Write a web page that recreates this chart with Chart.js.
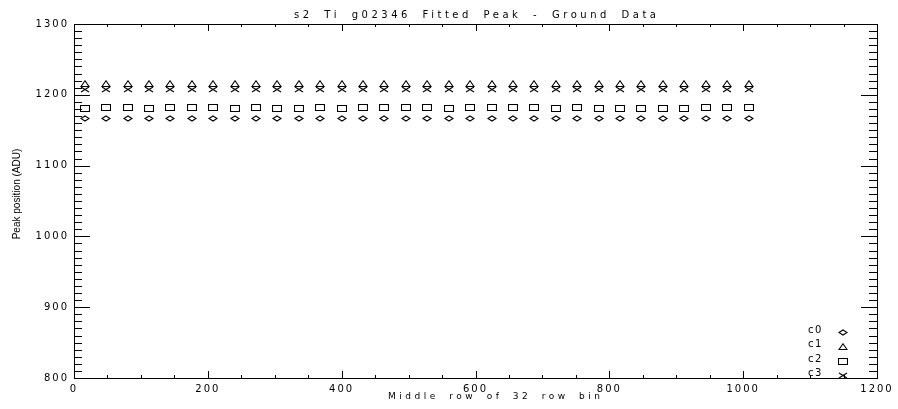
<!DOCTYPE html>
<html>
<head>
<meta charset="utf-8">
<script src="https://cdn.jsdelivr.net/npm/chart.js@4.4.1/dist/chart.umd.min.js"></script>
<style>
  html, body { margin: 0; padding: 0; background: #fff; }
</style>
</head>
<body>
<canvas id="peakChart" width="898" height="409"></canvas>
<script>
const rowBins = [16, 48, 80, 112, 144, 176, 208, 240, 272, 304, 336, 368, 400, 432, 464, 496,
                 528, 560, 592, 624, 656, 688, 720, 752, 784, 816, 848, 880, 912, 944, 976, 1008];
const peakC0 = [1166, 1166.5, 1166.5, 1166.5, 1166.5, 1166.5, 1166.5, 1166.5, 1166.5, 1166.5, 1166.5, 1166.5, 1166.5, 1166.5, 1166.5, 1166.5,
                1166.5, 1166.5, 1166.5, 1166.5, 1166.5, 1166.5, 1166.5, 1166.5, 1166.5, 1166, 1167, 1166.5, 1166.5, 1166.5, 1166, 1167];
const peakC1 = [1215, 1215, 1215, 1215, 1215, 1215, 1215, 1215, 1215, 1215, 1215, 1215, 1215, 1215, 1215, 1215,
                1215, 1215, 1215, 1215, 1215, 1215, 1215, 1215, 1215, 1215, 1215, 1215, 1215, 1215, 1215, 1215];
const peakC2 = [1181, 1181.5, 1182.5, 1180, 1181.5, 1181.5, 1182, 1181, 1181.5, 1180, 1181, 1181.5, 1181, 1181.5, 1181.5, 1181.5,
                1182.5, 1180, 1181.5, 1181.5, 1181.5, 1181.5, 1180.5, 1181.5, 1180.5, 1181, 1181, 1180.5, 1181, 1182, 1181.5, 1182];
const peakC3 = [1207, 1207, 1207, 1207, 1207, 1207, 1207, 1207, 1207, 1207, 1207, 1207, 1207, 1207, 1207, 1207,
                1207, 1207, 1207, 1207, 1207, 1207, 1207, 1207, 1207, 1207, 1207, 1207, 1207, 1207, 1207, 1207];
const seriesNames = ['c0', 'c1', 'c2', 'c3'];
const xTickValues = [0, 200, 400, 600, 800, 1000, 1200];
const yTickValues = [800, 900, 1000, 1100, 1200, 1300];

// little hollow symbols, like the IDL psym ones
function makeSymbol(w, h, drawFn) {
  const c = document.createElement('canvas');
  c.width = w; c.height = h;
  const g = c.getContext('2d');
  g.strokeStyle = '#000';
  g.lineWidth = 1.1;
  g.beginPath();
  drawFn(g);
  g.stroke();
  return c;
}
const diamond = makeSymbol(10, 7, g => {
  g.moveTo(1, 3.5); g.lineTo(5, 1); g.lineTo(9, 3.5); g.lineTo(5, 6); g.closePath();
});
const triangle = makeSymbol(10, 8, g => {
  g.moveTo(1, 6.5); g.lineTo(9, 6.5); g.lineTo(5, 0.8); g.closePath();
});
const square = makeSymbol(10, 7, g => {
  g.rect(0.5, 0.5, 9, 6);
});
const cross = makeSymbol(10, 7, g => {
  g.moveTo(1, 1); g.lineTo(9, 6); g.moveTo(9, 1); g.lineTo(1, 6);
});
const symbols = [diamond, triangle, square, cross];

function toPoints(ys) {
  return rowBins.map((x, i) => ({ x: x, y: ys[i] }));
}

// spread text out to a given width, spaces wider than letters (Hershey look)
function spacedText(ctx, text, cx, cy, target, wordGap) {
  ctx.letterSpacing = '0px';
  ctx.wordSpacing = wordGap + 'px';
  const w = ctx.measureText(text).width;
  const sp = (target - w) / (text.length - 1);
  ctx.letterSpacing = sp + 'px';
  ctx.textAlign = 'left';
  ctx.fillText(text, cx - target / 2, cy);
  ctx.wordSpacing = '0px';
}

const idlFrame = {
  id: 'idlFrame',
  beforeDraw(chart) {
    chart.ctx.letterSpacing = '2px';
  },
  beforeDatasetsDraw(chart) {
    chart.ctx.imageSmoothingEnabled = false;
  },
  afterDatasetsDraw(chart) {
    chart.ctx.imageSmoothingEnabled = true;
  },
  afterDraw(chart) {
    const ctx = chart.ctx;
    const a = chart.chartArea;
    const xs = chart.scales.x, ys = chart.scales.y;
    ctx.save();
    ctx.strokeStyle = '#000';
    ctx.lineWidth = 1;
    ctx.strokeRect(Math.round(a.left) + 0.5, Math.round(a.top) + 0.5,
                   Math.round(a.right - a.left), Math.round(a.bottom - a.top));

    ctx.beginPath();
    for (let v = 800; v <= 1300; v += 10) {
      const y = Math.round(ys.getPixelForValue(v)) + 0.5;
      const len = yTickValues.includes(v) ? 16 : 8;
      ctx.moveTo(a.left, y); ctx.lineTo(a.left + len, y);
      ctx.moveTo(a.right, y); ctx.lineTo(a.right - len, y);
    }
    for (let v = 0; v <= 1200; v += 50) {
      const x = Math.round(xs.getPixelForValue(v)) + 0.5;
      const len = xTickValues.includes(v) ? 7 : 3;
      ctx.moveTo(x, a.bottom); ctx.lineTo(x, a.bottom - len);
      ctx.moveTo(x, a.top); ctx.lineTo(x, a.top + len);
    }
    ctx.stroke();

    ctx.fillStyle = '#000';
    ctx.textBaseline = 'middle';
    ctx.font = '10px "DejaVu Sans"';
    spacedText(ctx, 's2 Ti g02346 Fitted Peak - Ground Data', 475, 15, 362, 5);
    ctx.font = '9px "DejaVu Sans"';
    spacedText(ctx, 'Middle row of 32 row bin', 494, 397, 212, 4);

    // legend, bottom right inside the box
    ctx.font = '10px "DejaVu Sans"';
    ctx.letterSpacing = '1.5px';
    ctx.imageSmoothingEnabled = false;
    seriesNames.forEach((name, i) => {
      const y = 331 + i * 14.5;
      ctx.textAlign = 'left';
      ctx.fillText(name, 808, y - 1);
      const s = symbols[i];
      ctx.drawImage(s, 843 - s.width / 2, Math.round(y - s.height / 2) + 1);
    });

    ctx.letterSpacing = '0px';
    ctx.font = '10px "Liberation Sans"';
    ctx.translate(17, 194);
    ctx.rotate(-Math.PI / 2);
    ctx.textAlign = 'center';
    ctx.fillText('Peak position (ADU)', 0, 0);
    ctx.restore();
  }
};

const peakSeries = [peakC0, peakC1, peakC2, peakC3];

new Chart(document.getElementById('peakChart'), {
  type: 'scatter',
  data: {
    datasets: peakSeries.map((ys, i) => ({
      label: seriesNames[i],
      data: toPoints(ys),
      pointStyle: symbols[i],
      pointRadius: 4,
      backgroundColor: 'rgba(0,0,0,0)',
      borderColor: '#000',
      showLine: false
    }))
  },
  options: {
    responsive: false,
    animation: false,
    layout: { padding: { top: 24, right: 21, left: 0, bottom: 0 } },
    plugins: {
      legend: { display: false },
      title: { display: false },
      tooltip: { enabled: false }
    },
    scales: {
      x: {
        type: 'linear',
        min: 0, max: 1200,
        afterFit: s => { s.height = 31; },
        afterBuildTicks: s => { s.ticks = xTickValues.map(v => ({ value: v })); },
        grid: { display: false, drawTicks: false },
        border: { display: false },
        ticks: { color: '#000', padding: 5, callback: v => String(v), font: { family: 'DejaVu Sans', size: 10 } }
      },
      y: {
        type: 'linear',
        min: 800, max: 1300,
        afterFit: s => { s.width = 74; },
        afterBuildTicks: s => { s.ticks = yTickValues.map(v => ({ value: v })); },
        grid: { display: false, drawTicks: false },
        border: { display: false },
        ticks: { color: '#000', padding: 5, callback: v => String(v), font: { family: 'DejaVu Sans', size: 10 } }
      }
    }
  },
  plugins: [idlFrame]
});
</script>
</body>
</html>
